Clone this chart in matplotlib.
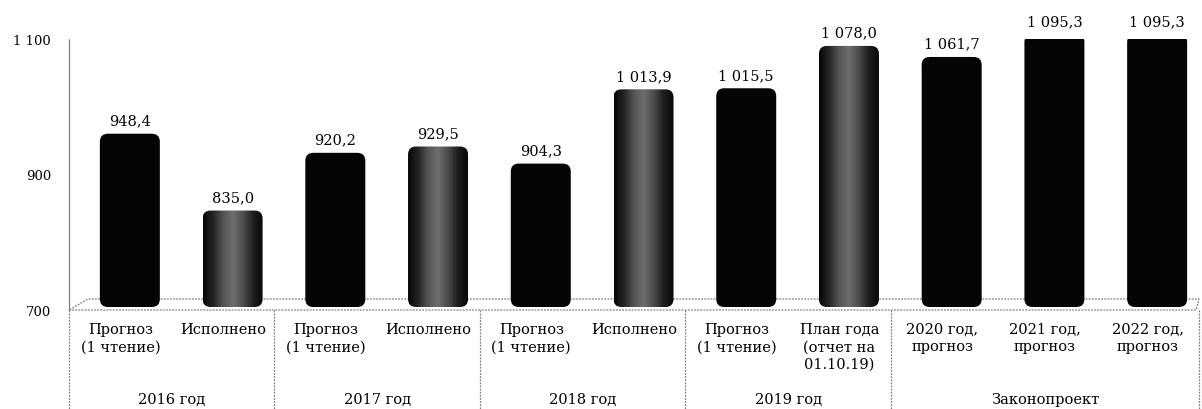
import numpy as np
import matplotlib
matplotlib.use('Agg')
import matplotlib.pyplot as plt
import matplotlib.transforms as mtransforms
from matplotlib.patches import FancyBboxPatch
from matplotlib.colors import LinearSegmentedColormap

labels = ['Прогноз\n(1 чтение)', 'Исполнено',
          'Прогноз\n(1 чтение)', 'Исполнено',
          'Прогноз\n(1 чтение)', 'Исполнено',
          'Прогноз\n(1 чтение)', 'План года\n(отчет на\n01.10.19)',
          '2020 год,\nпрогноз', '2021 год,\nпрогноз', '2022 год,\nпрогноз']
values = [948.4, 835.0, 920.2, 929.5, 904.3, 1013.9, 1015.5, 1078.0, 1061.7, 1095.3, 1095.3]
kinds = ['прогноз', 'факт', 'прогноз', 'факт', 'прогноз', 'факт',
         'прогноз', 'факт', 'прогноз', 'прогноз', 'прогноз']
groups = ['2016 год', '2017 год', '2018 год', '2019 год', 'Законопроект']
group_sizes = [2, 2, 2, 2, 3]
yticks = [700, 900, 1100]
ytick_labels = ['700', '900', '1 100']

plt.rcParams['font.family'] = ['DejaVu Serif']

W, H = 1202, 410
fig = plt.figure(figsize=(W / 100, H / 100), dpi=100)

# pixel layout of the plot area
x0, x1 = 69, 1199
y_top, y_base = 40, 311
ymin, ymax = 700, 1100
n = len(values)

ax = fig.add_axes([x0 / W, (H - y_base) / H, (x1 - x0) / W, (y_base - y_top) / H], zorder=2)
ax.patch.set_visible(False)
for s in ['top', 'right', 'bottom']:
    ax.spines[s].set_visible(False)
ax.spines['left'].set_linestyle((0, (1.5, 1)))
ax.spines['left'].set_color('#808080')
ax.spines['left'].set_linewidth(0.9)
ax.set_xticks([])
ax.set_yticks(yticks, ytick_labels)
ax.tick_params(axis='y', length=0, pad=13, labelsize=9.5)

# 3d depth shift of the bars
depth = mtransforms.ScaledTranslation(9.5 / 100, 8 / 100, fig.dpi_scale_trans)
tr = ax.transData + depth

px_x = (x1 - x0) / n               # pixels per slot
px_y = (y_base - y_top) / (ymax - ymin)
asp = px_x / px_y
bw = 60 / px_x
rx = 8 / px_x
base = ymin - 5 / px_y              # bars sit slightly into the floor

cmap = LinearSegmentedColormap.from_list('cyl', ['#060606', '#262626', '#555555', '#6e6e6e',
                                                 '#4c4c4c', '#1e1e1e', '#080808'])
grad = np.linspace(0, 1, 64).reshape(1, -1)


def fmt(v):
    return f'{v:,.1f}'.replace(',', ' ').replace('.', ',')


for i, (v, k) in enumerate(zip(values, kinds)):
    xc = i + 0.5
    p = FancyBboxPatch((xc - bw / 2, base), bw, v - base,
                       boxstyle=f'round,pad=0,rounding_size={rx}',
                       mutation_aspect=asp, transform=tr,
                       fc='#050505' if k == 'прогноз' else 'none', ec='none', zorder=3)
    ax.add_patch(p)
    if k == 'факт':
        im = ax.imshow(grad, cmap=cmap, extent=(xc - bw / 2, xc + bw / 2, base, v),
                       transform=tr, aspect='auto', interpolation='bilinear', zorder=3)
        im.set_clip_path(p)
    ax.annotate(fmt(v), (xc, v), xycoords=tr, xytext=(0, 9.5), textcoords='offset points',
                ha='center', va='center', fontsize=10.5)

ax.set_xlim(0, n)
ax.set_ylim(ymin, ymax)

# floor drawn in pixel space
bg = fig.add_axes([0, 0, 1, 1], zorder=0)
bg.set_xlim(0, W)
bg.set_ylim(H, 0)
bg.axis('off')
dot = dict(color='#808080', lw=0.9, ls=(0, (1.5, 1)))
bg.plot([x0, x1 - 3, x1, x0 + 19, x0], [y_base, y_base, y_base - 11, y_base - 11, y_base], **dot)

# category table under the plot
tab = fig.add_axes([x0 / W, 0, (x1 - x0) / W, (H - y_base) / H], zorder=1)
tab.set_xlim(0, n)
tab.set_ylim(H - y_base, 0)
tab.axis('off')
bounds = np.cumsum([0] + group_sizes)
for b in bounds:
    tab.plot([b, b], [0, H - y_base], clip_on=False, **dot)
for i, lab in enumerate(labels):
    tab.text(i + 0.5, 12, lab, ha='center', va='top', multialignment='center',
             fontsize=10.5, linespacing=1.3)
for g, a, b in zip(groups, bounds[:-1], bounds[1:]):
    tab.text((a + b) / 2, 89, g, ha='center', va='center', fontsize=10.5)

fig.savefig('out.png', dpi=100)
